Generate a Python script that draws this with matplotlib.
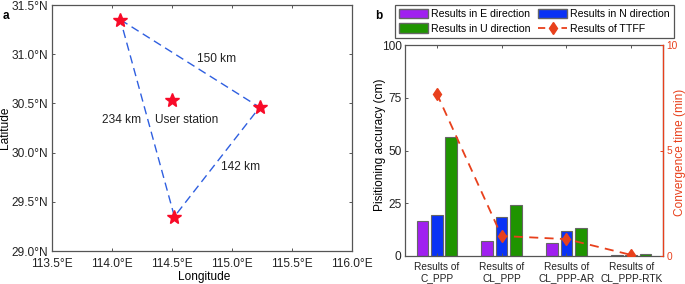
import numpy as np
from matplotlib import pyplot as plt
from matplotlib.lines import Line2D
from matplotlib.patches import Patch

plt.rcParams['font.family'] = ['Liberation Sans', 'DejaVu Sans']
plt.rcParams['font.size'] = 8.6

W = 685
H = 284
grey = '#555555'
orange = '#e8401c'
red = '#f80a28'

# map panel
station_lon = [114.07, 115.23, 114.52]
station_lat = [31.35, 30.46, 29.35]
user_lon = [114.50]
user_lat = [30.53]
lon_ticks = [113.5, 114.0, 114.5, 115.0, 115.5, 116.0]
lat_ticks = [29.0, 29.5, 30.0, 30.5, 31.0, 31.5]

# bar panel
solutions = ['Results of\nC_PPP', 'Results of\nCL_PPP', 'Results of\nCL_PPP-AR', 'Results of\nCL_PPP-RTK']
east = [16.5, 7.0, 6.0, 0.5]
north = [19.5, 18.5, 12.0, 0.5]
up = [56.5, 24.0, 13.5, 1.0]
ttff = [7.7, 0.95, 0.8, 0.05]


def axes_px(left, top, right, bottom):
    return [left / W, 1 - bottom / H, (right - left) / W, (bottom - top) / H]


def style(ax):
    for s in ax.spines.values():
        s.set_color(grey)
        s.set_linewidth(0.9)
    ax.tick_params(direction='in', length=2.5, width=0.7, color=grey, labelcolor='#222222', pad=2.5)


fig = plt.figure(figsize=(W / 100, H / 100), dpi=100)

ax1 = fig.add_axes(axes_px(52, 5, 352, 251))
loop_lon = station_lon + station_lon[:1]
loop_lat = station_lat + station_lat[:1]
ax1.plot(loop_lon, loop_lat, color='#2f5fe0', ls=(0, (6, 3.5)), lw=1.0)
ax1.plot(station_lon, station_lat, ls='', marker='*', ms=10, mfc=red, mec=red)
ax1.plot(user_lon, user_lat, ls='', marker='*', ms=10, mfc=red, mec=red)
ax1.set_xlim(113.5, 116)
ax1.set_ylim(29, 31.5)
ax1.set_xticks(lon_ticks)
ax1.set_yticks(lat_ticks)
ax1.set_xticklabels(['%.1f°E' % v for v in lon_ticks])
ax1.set_yticklabels(['%.1f°N' % v for v in lat_ticks])
ax1.tick_params(top=True, right=True)
style(ax1)
ax1.tick_params(axis='x', pad=5)
ax1.set_xlabel('Longitude', labelpad=1)
ax1.xaxis.label.set_x(0.507)
ax1.set_ylabel('Latitude', labelpad=1)
ax1.text(114.875, 30.95, '150 km', ha='center', va='center', color='#222222')
ax1.text(114.08, 30.33, '234 km', ha='center', va='center', color='#222222')
ax1.text(114.625, 30.33, 'User station', ha='center', va='center', color='#222222')
ax1.text(115.07, 29.85, '142 km', ha='center', va='center', color='#222222')

ax2 = fig.add_axes(axes_px(405, 45, 663, 256))
x = np.arange(1, len(solutions) + 1)
bar_w = 0.18
off = 0.22
edge = '#666666'
ax2.bar(x - off, east, bar_w, color='#a020f0', edgecolor=edge, lw=0.8)
ax2.bar(x, north, bar_w, color='#0a32f5', edgecolor=edge, lw=0.8)
ax2.bar(x + off, up, bar_w, color='#1f9400', edgecolor=edge, lw=0.8)
ax2.set_xlim(0.51, 4.49)
ax2.set_ylim(0, 100)
ax2.set_xticks(x)
ax2.set_xticklabels(solutions, fontsize=7.3, linespacing=1.15)
ax2.set_yticks([0, 25, 50, 75, 100])
ax2.tick_params(top=True, right=True)
style(ax2)
ax2.tick_params(axis='x', pad=4.5)
ax2.tick_params(axis='y', labelsize=8.6)
ax2.set_ylabel('Pisitioning accuracy (cm)', labelpad=-3)
ax2.yaxis.label.set_y(0.526)

ax3 = ax2.twinx()
ax3.plot(x, ttff, color=orange, ls=(0, (5, 3.5)), lw=1.3, marker='d', ms=6.5, mfc=orange, mec=orange)
ax3.set_ylim(0, 10)
ax3.set_yticks([0, 5, 10])
for s in ax3.spines.values():
    s.set_visible(False)
ax3.spines['right'].set_visible(True)
ax3.spines['right'].set_color(orange)
ax3.spines['right'].set_linewidth(0.9)
ax3.tick_params(axis='y', direction='in', length=2.5, width=0.7, color=orange, labelcolor=orange, labelsize=7.3, pad=2.5)
ax3.set_ylabel('Convergence time (min)', color=orange, labelpad=-3)
ax3.yaxis.label.set_y(0.49)

handles = [
    Patch(facecolor='#a020f0', edgecolor=edge, label='Results in E direction'),
    Patch(facecolor='#1f9400', edgecolor=edge, label='Results in U direction'),
    Patch(facecolor='#0a32f5', edgecolor=edge, label='Results in N direction'),
    Line2D([], [], color=orange, ls=(0, (4, 2.5)), lw=1.3, marker='d', ms=6.5, label='Results of TTFF'),
]
leg = fig.legend(handles=handles, ncol=2, loc='upper left',
                 bbox_to_anchor=(395 / W, 1 - 5 / H), borderaxespad=0,
                 fontsize=7.6, fancybox=False, edgecolor=grey, framealpha=1,
                 handlelength=2.8, handleheight=1.0, handletextpad=0.3,
                 columnspacing=0.65, labelspacing=0.42, borderpad=0.35)
leg.get_frame().set_linewidth(0.9)

fig.text(3 / W, 1 - 16 / H, 'a', fontweight='bold', fontsize=8.5, va='center')
fig.text(375 / W, 1 - 16 / H, 'b', fontweight='bold', fontsize=8.5, va='center')

plt.savefig('out.png', dpi=100)
